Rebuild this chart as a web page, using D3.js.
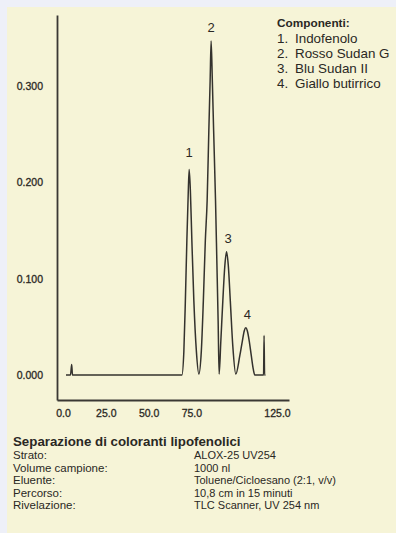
<!DOCTYPE html>
<html>
<head>
<meta charset="utf-8">
<script src="https://cdn.jsdelivr.net/npm/d3@7"></script>
<style>
html,body{margin:0;padding:0;background:#eef0f8;}
svg{display:block;font-family:"Liberation Sans",Arial,Helvetica,sans-serif;}
</style>
</head>
<body>
<svg id="chart" width="396" height="533"></svg>
<script>
// ---- data ----
const curveX = [1.75,4.38,5.08,5.54,69.43,70.6,71.47,72.35,73.1,73.69,74.39,75.26,76.43,77.89,79.35,
  80.8,81.97,83.14,84.19,85.18,85.94,86.52,87.22,87.98,89.09,89.85,90.61,91.19,
  92.18,93.35,94.52,95.51,96.56,97.72,99.18,100.93,
  103.27,104.73,105.89,106.77,107.64,108.81,109.98,111.14,112.02,
  117.15,117.44,117.74,118.26];
const curveY = [0,0,0.011,0,0,0.025,0.077,0.140,0.186,0.2135,0.192,0.140,0.077,0.025,0.001,
  0.025,0.077,0.140,0.181,0.254,0.306,0.347,0.306,0.254,0.181,0.119,0.056,0.001,
  0.035,0.077,0.1135,0.128,0.1135,0.077,0.030,0.001,
  0.020,0.035,0.046,0.049,0.046,0.035,0.020,0.006,0,
  0,0.041,0,0];
const peakLabels = ["1","2","3","4"];
const peakX = [73.69,86.52,95.51,106.77];
const peakY = [0.2135,0.347,0.128,0.049];
const xTicks = [0,25,50,75,125];
const yTicks = [0,0.1,0.2,0.3];
const legendTitle = "Componenti:";
const legendNums = ["1.","2.","3.","4."];
const legendNames = ["Indofenolo","Rosso Sudan G","Blu Sudan II","Giallo butirrico"];
const infoTitle = "Separazione di coloranti lipofenolici";
const infoLabels = ["Strato:","Volume campione:","Eluente:","Percorso:","Rivelazione:"];
const infoValues = ["ALOX-25 UV254","1000 nl","Toluene/Cicloesano (2:1, v/v)","10,8 cm in 15 minuti","TLC Scanner, UV 254 nm"];

// ---- drawing ----
const svg = d3.select("#chart");
const ink = "#2a2824";
svg.append("rect").attr("x",0).attr("y",0).attr("width",396).attr("height",533).attr("fill","#eef0f8");
svg.append("rect").attr("x",7).attr("y",7).attr("width",389).attr("height",526).attr("fill","#f6f4d7");

const x = d3.scaleLinear().domain([-3.5,132]).range([57,289]);
const y = d3.scaleLinear().domain([-0.026,0.374]).range([400,15]);

const yAxis = svg.append("g").attr("transform","translate(57,0)")
  .call(d3.axisLeft(y).tickValues(yTicks).tickSize(0).tickSizeOuter(0).tickPadding(14).tickFormat(d3.format(".3f")));
const xAxis = svg.append("g").attr("transform","translate(0,400)")
  .call(d3.axisBottom(x).tickValues(xTicks).tickSize(0).tickSizeOuter(0).tickPadding(10).tickFormat(d3.format(".1f")));
[yAxis,xAxis].forEach(g=>{
  g.select(".domain").attr("stroke","#3a3834").attr("stroke-width",1.8);
  g.selectAll("text").attr("fill",ink).attr("font-size","10.5px")
    .attr("stroke",ink).attr("stroke-width",0.3)
    .attr("font-family","Liberation Sans, Arial, sans-serif");
});

const pts = curveX.map((v,i)=>[v,curveY[i]]);
svg.append("path").datum(pts)
  .attr("fill","none").attr("stroke","#34322e").attr("stroke-width",1.5).attr("stroke-linejoin","round")
  .attr("d", d3.line().x(d=>x(d[0])).y(d=>y(d[1])).curve(d3.curveMonotoneX));

svg.append("g").selectAll("text").data(peakLabels).join("text")
  .attr("x",(d,i)=>x(peakX[i])+(i>=2?1.5:0))
  .attr("y",(d,i)=>y(peakY[i])-(i===0?12:9))
  .attr("text-anchor","middle").attr("font-size","13px").attr("fill",ink).text(d=>d);

// legend
const lg = svg.append("g");
lg.append("text").attr("x",277).attr("y",27).attr("font-size","11.8px").attr("font-weight","bold").attr("fill",ink).text(legendTitle);
legendNums.forEach((n,i)=>{
  lg.append("text").attr("x",277).attr("y",42.5+i*15).attr("font-size","13.4px").attr("fill",ink).text(n);
  lg.append("text").attr("x",295).attr("y",42.5+i*15).attr("font-size","13.4px").attr("fill",ink).text(legendNames[i]);
});

// info block
const ib = svg.append("g");
ib.append("text").attr("x",13).attr("y",446).attr("font-size","13.3px").attr("font-weight","bold").attr("fill",ink).text(infoTitle);
infoLabels.forEach((l,i)=>{
  ib.append("text").attr("x",13).attr("y",459+i*12.6).attr("font-size","11.5px").attr("fill",ink).text(l);
  ib.append("text").attr("x",194).attr("y",459+i*12.6).attr("font-size","11px").attr("fill",ink).text(infoValues[i]);
});
</script>
</body>
</html>
